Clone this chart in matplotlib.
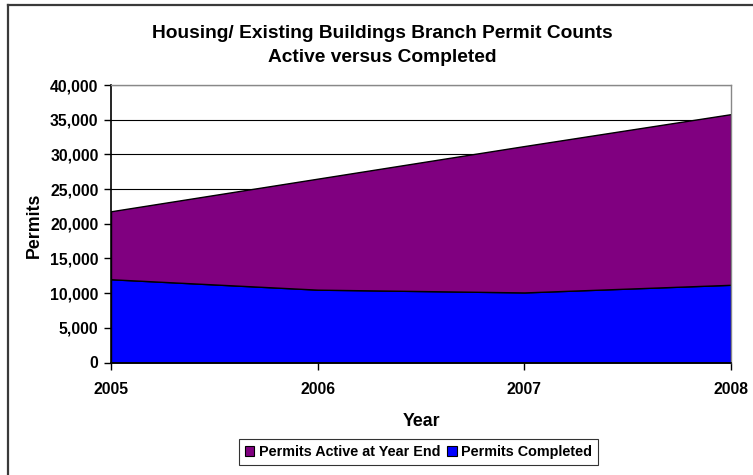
import matplotlib
matplotlib.use("Agg")
import matplotlib.pyplot as plt
from matplotlib.lines import Line2D
from matplotlib.patches import Patch
from matplotlib.ticker import FuncFormatter

years = [2005, 2006, 2007, 2008]
permits_completed = [12000, 10500, 10100, 11200]
permits_active = [9800, 16000, 21100, 24600]
series_labels = ["Permits Active at Year End", "Permits Completed"]
colors = {"active": "#800080", "completed": "#0000FF"}

plt.rcParams["font.family"] = ["Liberation Sans", "DejaVu Sans"]
plt.rcParams["font.weight"] = "bold"

W, H = 753, 475
fig = plt.figure(figsize=(W / 100, H / 100), dpi=100)
fig.patch.set_facecolor("white")

def fx(px):
    return px / W

def fy(py):
    return 1 - py / H

ax = fig.add_axes([fx(111), fy(362.5), fx(731) - fx(111), fy(85) - fy(362.5)])

ax.set_axisbelow(True)
ax.yaxis.grid(True, color="black", linewidth=0.8)

top = [c + a for c, a in zip(permits_completed, permits_active)]
ax.fill_between(years, 0, permits_completed, facecolor=colors["completed"],
                edgecolor="black", linewidth=1.0, zorder=2)
ax.fill_between(years, permits_completed, top, facecolor=colors["active"],
                edgecolor="black", linewidth=1.0, zorder=2)

ax.set_xlim(2005, 2008)
ax.set_ylim(0, 40000)
ax.set_xticks(years)
ax.set_yticks(range(0, 40001, 5000))
ax.yaxis.set_major_formatter(FuncFormatter(lambda v, p: f"{int(v):,}"))
ax.tick_params(axis="both", labelsize=11.3, length=5, width=1, color="black", direction="out")
ax.tick_params(axis="x", pad=9)
ax.tick_params(axis="y", pad=4)
for lbl in ax.get_xticklabels() + ax.get_yticklabels():
    lbl.set_fontweight("bold")

for side in ("left", "bottom"):
    ax.spines[side].set_color("black")
    ax.spines[side].set_linewidth(1.2)
for side in ("top", "right"):
    ax.spines[side].set_color("#888888")
    ax.spines[side].set_linewidth(1.0)

fig.text(fx(382), fy(34), "Housing/ Existing Buildings Branch Permit Counts",
         ha="center", va="center", fontsize=13.8, fontweight="bold")
fig.text(fx(382), fy(58), "Active versus Completed",
         ha="center", va="center", fontsize=13.8, fontweight="bold")
fig.text(fx(34.5), fy(225), "Permits", rotation=90, ha="center", va="center",
         fontsize=12.8, fontweight="bold")
fig.text(fx(421.5), fy(421), "Year", ha="center", va="center",
         fontsize=12.8, fontweight="bold")

handles = [Patch(facecolor=colors["active"], edgecolor="black", linewidth=0.8),
           Patch(facecolor=colors["completed"], edgecolor="black", linewidth=0.8)]
leg = fig.legend(handles, series_labels, loc="center", bbox_to_anchor=(fx(418.5), fy(452)),
                 ncol=2, frameon=True, fancybox=False, handlelength=0.65, handleheight=0.65,
                 handletextpad=0.3, columnspacing=0.5, borderpad=0.4,
                 prop={"size": 10.4, "weight": "bold"})
leg.get_frame().set_edgecolor("black")
leg.get_frame().set_linewidth(0.8)

# outer frame around the chart
fig.add_artist(Line2D([fx(8), 1.0], [fy(5), fy(5)], color="#3a3a3a", linewidth=1.6))
fig.add_artist(Line2D([fx(8), fx(8)], [fy(5), 0.0], color="#3a3a3a", linewidth=1.6))

fig.savefig("out.png", dpi=100)
